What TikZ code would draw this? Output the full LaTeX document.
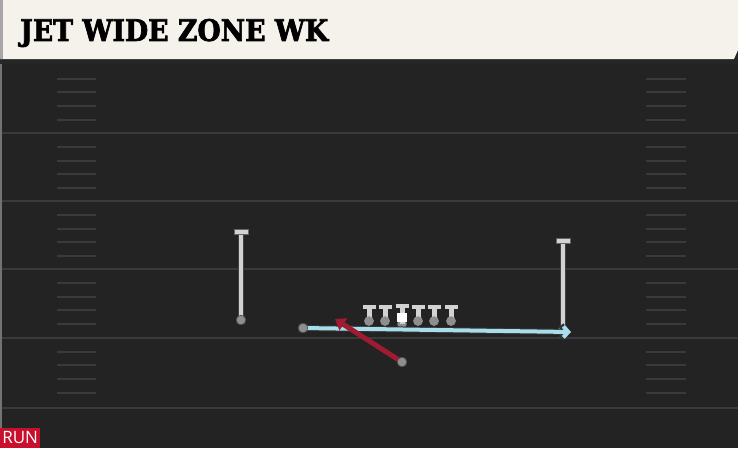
\documentclass[tikz,border=0pt]{standalone}
\usepackage{fontspec}
\usetikzlibrary{arrows.meta}
\newfontfamily\titlefont{DejaVu Serif}[FakeBold=2.5]
\newfontfamily\tagfont{Open Sans}
\definecolor{fieldbg}{HTML}{232323}
\definecolor{fieldline}{HTML}{3A3A3A}
\definecolor{cream}{HTML}{F5F2EB}
\definecolor{routegrey}{HTML}{D2D2D2}
\definecolor{dotgrey}{HTML}{8E8E8E}
\definecolor{runred}{HTML}{9E1B32}
\definecolor{jetblue}{HTML}{A8DDEB}
\definecolor{tagred}{HTML}{C8102E}
\tikzset{
  yard/.style={draw=fieldline, line width=2pt},
  hash/.style={draw=fieldline, line width=1.6pt},
  player/.style={circle, fill=dotgrey, draw=black!70, line width=0.6pt, minimum size=9.5pt, inner sep=0pt},
  tbar/.style={rectangle, fill=routegrey, draw=black!60, line width=0.6pt, minimum width=14pt, minimum height=5pt, inner sep=0pt},
  routeedge/.style={draw=black!75, line width=6.5pt},
  routecore/.style={draw=routegrey, line width=4.6pt},
  oline/.style={draw=routegrey, line width=5pt},
  olbar/.style={rectangle, fill=routegrey, minimum width=13pt, minimum height=4.5pt, inner sep=0pt},
  olman/.style={circle, fill=dotgrey, minimum size=9.5pt, inner sep=0pt},
}
\begin{document}
\begin{tikzpicture}[x=1pt,y=-1pt]
\useasboundingbox (0,0) rectangle (738,448);
% field
\fill[fieldbg] (0,0) rectangle (738,448);
\fill[black!85] (0,58) rectangle (738,64);
\fill[black!55] (0,64) rectangle (2,448);
% header
\fill[cream] (0,0) -- (738,0) -- (738,50) -- (734,59) -- (0,59) -- cycle;
\fill[black!35] (0,0) rectangle (3,59);
\node[anchor=west, inner sep=0pt] (title) at (20,33) {\resizebox{308pt}{22pt}{\titlefont\bfseries JET WIDE ZONE WK}};
% yard lines
\foreach \y in {133,201,269,338,408} \draw[yard] (2,\y) -- (738,\y);
% hash marks
\foreach \y in {79,92,106,120,147,161,174,188,215,229,242,256,283,297,310,324,352,365,379,393} {
  \draw[hash] (57,\y) -- (96,\y);
  \draw[hash] (646,\y) -- (686,\y);
}
% left receiver
\coordinate (lrtop) at (241,232);
\node[player] (lr) at (241,320) {};
\draw[routeedge] (lr.center) -- (lrtop);
\draw[routecore] (lr.center) -- (lrtop);
\node[tbar] (lrbar) at (lrtop) {};
\node[player] at (241,320) {};
% right receiver
\coordinate (rrtop) at (563,241);
\node[player] (rr) at (563,330) {};
\draw[routeedge] (rr.center) -- (rrtop);
\draw[routecore] (rr.center) -- (rrtop);
\node[tbar] (rrbar) at (rrtop) {};
% offensive line
\foreach \x/\n in {369/a,385/b,418/d,434/e,451/f} {
  \coordinate (top\n) at (\x,307);
  \node[olman] (ol\n) at (\x,321) {};
  \draw[oline] (ol\n.center) -- (top\n);
  \node[olbar] at (top\n) {};
  \node[olman] at (\x,321) {};
}
\coordinate (topc) at (402,306);
\node[olman] (olc) at (402,324) {};
\draw[oline] (olc.center) -- (topc);
\node[olbar] at (topc) {};
\node[rectangle, fill=white, minimum width=9.5pt, minimum height=9pt, inner sep=0pt] (center) at (402,317) {};
% jet motion
\node[player] (jet) at (303,328) {};
\coordinate (jetend) at (571,332);
\draw[draw=black!80, line width=6pt, -{Straight Barb[length=6pt,width=13pt]}] (jet.center) -- (jetend);
\draw[draw=jetblue, line width=4pt, -{Straight Barb[length=5pt,width=11pt]}] (jet.center) -- (jetend);
\node[player] at (303,328) {};
% running back
\node[player] (rb) at (402,362) {};
\coordinate (rbend) at (335,319);
\draw[draw=runred, line width=5pt, -{Triangle[length=10pt,width=14pt]}] (rb.center) -- (rbend);
\node[player] at (402,362) {};
% tag
\node[fill=tagred, text=white, anchor=south west, inner sep=0pt, minimum width=40pt, minimum height=20pt, font=\tagfont\fontsize{17}{17}\selectfont] (tag) at (0,448) {RUN};
\end{tikzpicture}
\end{document}
